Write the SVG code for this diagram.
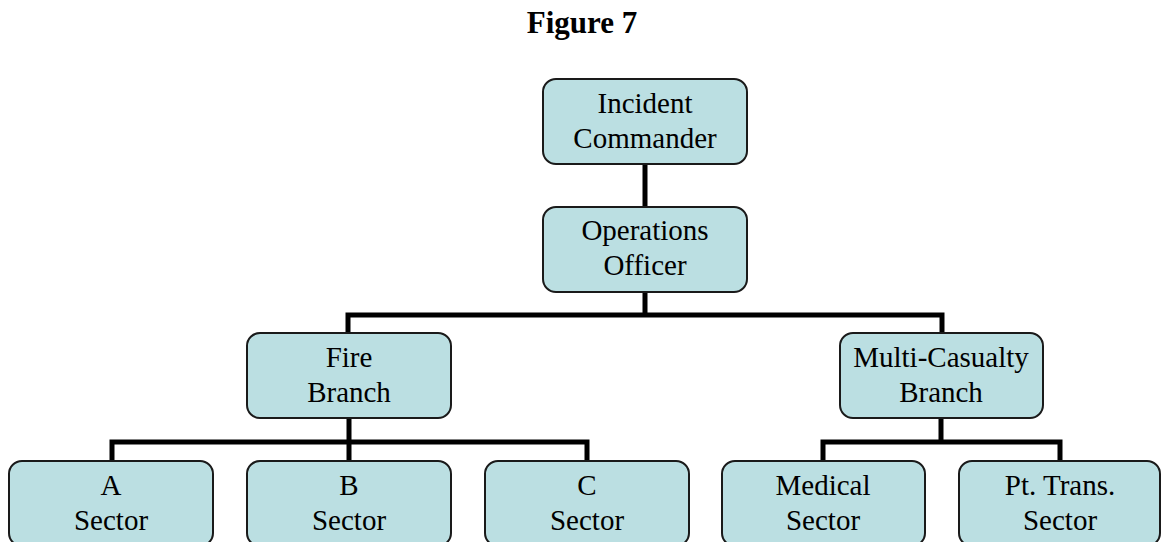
<svg xmlns="http://www.w3.org/2000/svg" width="1161" height="542" viewBox="0 0 1161 542">
  <style>
    .box { fill: #bbdfe2; stroke: #1a1a1a; stroke-width: 2; }
    .lbl { font-family: "Liberation Serif", serif; font-size: 29px; fill: #000; text-anchor: middle; }
    .title { font-family: "Liberation Serif", serif; font-size: 31px; font-weight: bold; fill: #000; text-anchor: middle; }
    .wire { fill: none; stroke: #000; stroke-width: 5; stroke-linejoin: miter; stroke-linecap: butt; }
  </style>
  <rect width="1161" height="542" fill="#ffffff"/>
  <text class="title" font-family="Liberation Serif, serif" x="582" y="33">Figure 7</text>

  <!-- connectors -->
  <g id="connectors">
    <path class="wire" d="M645 164 V207"/>
    <path class="wire" d="M645 292 V315 M348 333 V315 H942 V333"/>
    <path class="wire" d="M349 418 V442 M112 461 V442 H587 V461 M349 442 V461"/>
    <path class="wire" d="M941 418 V442 M823 461 V442 H1060 V461"/>
  </g>

  <g id="incident-commander">
    <rect class="box" x="543" y="79" width="204" height="85" rx="13"/>
    <text class="lbl" font-family="Liberation Serif, serif" x="645" y="113">Incident</text>
    <text class="lbl" font-family="Liberation Serif, serif" x="645" y="148">Commander</text>
  </g>
  <g id="operations-officer">
    <rect class="box" x="543" y="207" width="204" height="85" rx="13"/>
    <text class="lbl" font-family="Liberation Serif, serif" x="645" y="240">Operations</text>
    <text class="lbl" font-family="Liberation Serif, serif" x="645" y="275">Officer</text>
  </g>
  <g id="fire-branch">
    <rect class="box" x="247" y="333" width="204" height="85" rx="13"/>
    <text class="lbl" font-family="Liberation Serif, serif" x="349" y="367">Fire</text>
    <text class="lbl" font-family="Liberation Serif, serif" x="349" y="402">Branch</text>
  </g>
  <g id="multi-casualty-branch">
    <rect class="box" x="840" y="333" width="203" height="85" rx="13"/>
    <text class="lbl" font-family="Liberation Serif, serif" x="941" y="367">Multi-Casualty</text>
    <text class="lbl" font-family="Liberation Serif, serif" x="941" y="402">Branch</text>
  </g>
  <g id="a-sector">
    <rect class="box" x="9" y="461" width="204" height="85" rx="13"/>
    <text class="lbl" font-family="Liberation Serif, serif" x="111" y="495">A</text>
    <text class="lbl" font-family="Liberation Serif, serif" x="111" y="530">Sector</text>
  </g>
  <g id="b-sector">
    <rect class="box" x="247" y="461" width="204" height="85" rx="13"/>
    <text class="lbl" font-family="Liberation Serif, serif" x="349" y="495">B</text>
    <text class="lbl" font-family="Liberation Serif, serif" x="349" y="530">Sector</text>
  </g>
  <g id="c-sector">
    <rect class="box" x="485" y="461" width="204" height="85" rx="13"/>
    <text class="lbl" font-family="Liberation Serif, serif" x="587" y="495">C</text>
    <text class="lbl" font-family="Liberation Serif, serif" x="587" y="530">Sector</text>
  </g>
  <g id="medical-sector">
    <rect class="box" x="722" y="461" width="203" height="85" rx="13"/>
    <text class="lbl" font-family="Liberation Serif, serif" x="823" y="495">Medical</text>
    <text class="lbl" font-family="Liberation Serif, serif" x="823" y="530">Sector</text>
  </g>
  <g id="pt-trans-sector">
    <rect class="box" x="959" y="461" width="201" height="85" rx="13"/>
    <text class="lbl" font-family="Liberation Serif, serif" x="1060" y="495">Pt. Trans.</text>
    <text class="lbl" font-family="Liberation Serif, serif" x="1060" y="530">Sector</text>
  </g>
</svg>
